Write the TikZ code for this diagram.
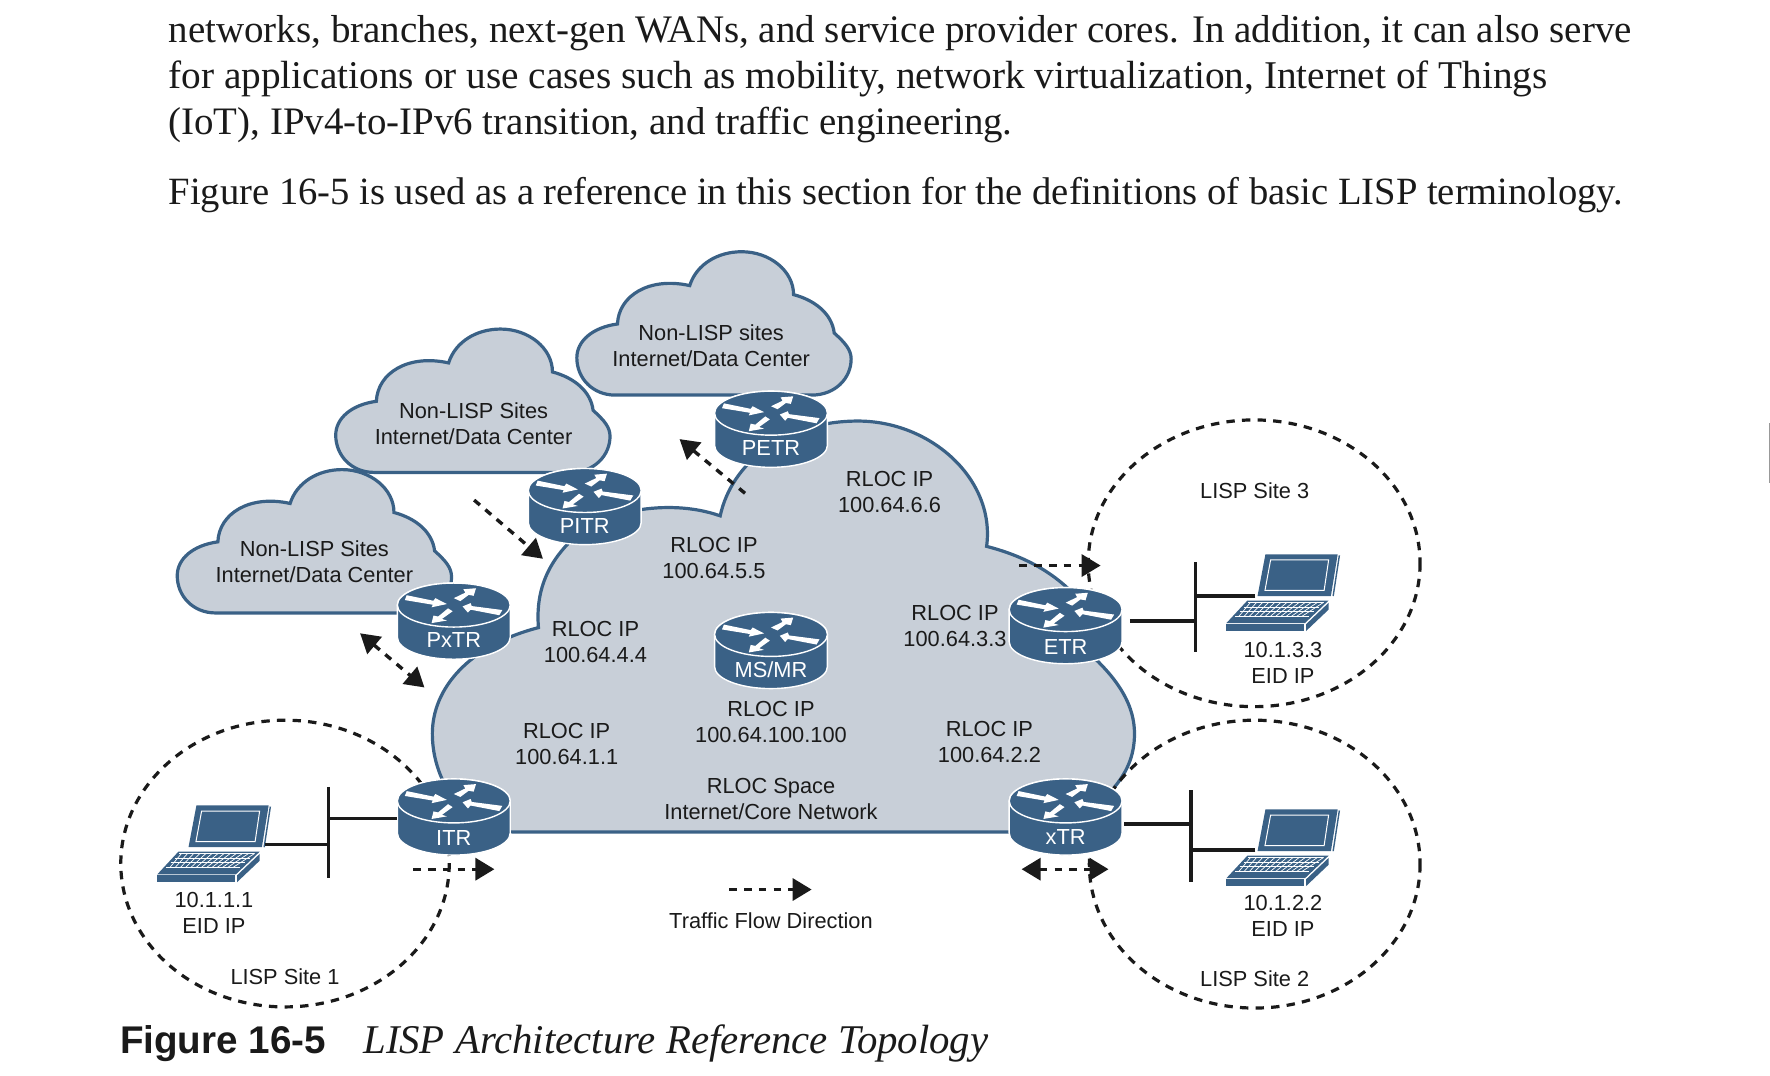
\documentclass[tikz,border=0pt]{standalone}
\usepackage{fontspec}
\setmainfont{Liberation Serif}
\newfontfamily\lsans{Liberation Sans}
\usetikzlibrary{arrows.meta}
\definecolor{rblue}{HTML}{3A6186}
\definecolor{cloudfill}{HTML}{C8CFD8}
\definecolor{cloudline}{HTML}{3A6186}
\definecolor{ink}{HTML}{1A1A1A}
\tikzset{
  x=0.5644pt,y=-0.5644pt,
  lbl/.style={font=\lsans\fontsize{10.9}{13}\selectfont,text=ink,align=center,inner sep=0pt},
  body/.style={font=\fontsize{#1}{22}\selectfont,text=ink,anchor=base west,inner sep=0pt},
  routerbox/.style={inner sep=0pt,minimum width=56.4pt,minimum height=38.4pt,text=white,font=\lsans\fontsize{10.9}{13}\selectfont},
  cloudshape/.style={fill=cloudfill,draw=cloudline,line width=1.6pt,line join=miter},
  site/.style={draw=ink,line width=1.6pt,dash pattern=on 4.2pt off 3.6pt},
  wire/.style={draw=ink,line width=1.7pt},
  flow/.style={draw=ink,line width=1.7pt,dash pattern=on 3.8pt off 3.6pt,-{Triangle[length=9.5pt,width=11pt]}},
  flowboth/.style={draw=ink,line width=1.7pt,dash pattern=on 3.8pt off 3.6pt,{Triangle[length=9.5pt,width=11pt]}-{Triangle[length=9.5pt,width=11pt]}},
}
% router: #1 name, #2 cx, #3 cy (centre), #4 label, #5 label drop in pt
\newcommand{\routerat}[5]{%
  \begin{scope}[shift={(#2,#3)}]
    \fill[rblue,draw=white,line width=0.7pt] (-50,-14) -- (-50,14.5) arc[start angle=180,end angle=0,x radius=50,y radius=19.5] -- (50,-14) arc[start angle=0,end angle=-180,x radius=50,y radius=19.5] -- cycle;
    \draw[white,line width=0.7pt,fill=rblue] (0,-14) ellipse[x radius=50,y radius=19.5];
    \fill[white] (-41.7,-22.7) -- (-18,-17.8) -- (-16.3,-20.1) -- (-6.1,-14.9) -- (-19.7,-12) -- (-18.6,-14.3) -- (-43.4,-18.4) -- cycle;
    \fill[white] (43,-9.6) -- (40.3,-5) -- (14.9,-9.9) -- (12.5,-7.3) -- (7.8,-12.8) -- (14.9,-15.7) -- (15.9,-13.1) -- cycle;
    \fill[white] (0,-20.1) -- (10.2,-25) -- (8.5,-28) -- (19.7,-28.9) -- (17.6,-22.2) -- (13.2,-23) -- (5.8,-17.5) -- cycle;
    \fill[white] (-5.1,-11.1) -- (-1,-8.5) -- (-10.5,-1.7) -- (-6.1,-0.3) -- (-19.7,2) -- (-18,-4.7) -- (-13.9,-3.8) -- cycle;
  \end{scope}
  \node[routerbox] (#1) at (#2,#3) {\smash{\raisebox{-#5pt}{#4}}};
}
% laptop: shift relative to the site-1 laptop
\newcommand{\laptopat}[2]{%
  \begin{scope}[shift={(#1,#2)}]
    \fill[rblue] (174,714) -- (238,714) -- (232,751) -- (167,751) -- cycle;
    \draw[white,line width=0.5pt] (178.6,719) -- (230,719) -- (226,746) -- (173.6,746) -- cycle;
    \draw[rblue,line width=0.7pt] (239.5,715) -- (234,751);
    \fill[rblue] (158,755) -- (230,755) -- (209,775) -- (139.4,775) -- cycle;
    \fill[rblue] (139.4,776) -- (208,776) -- (208,782) -- (139.4,782) -- cycle;
    \fill[rblue] (210,776) -- (230,757) -- (230,763) -- (210,782) -- cycle;
    \foreach \t in {0.08,0.28,0.48,0.68}{
      \draw[white,line width=0.35pt] ({158+\t*(139.4-158)+2},{755+\t*20}) -- ({230+\t*(209-230)-3},{755+\t*20});
    }
    \foreach \s in {0.04,0.115,...,0.98}{
      \draw[white,line width=0.35pt] ({158+\s*72},756.5) -- ({148+\s*62},769);
    }
  \end{scope}
}
\newcommand{\smallcloud}[2]{%
  \begin{scope}[shift={(#1,#2)}]
    \draw[cloudshape] (545,350) .. controls (525,350) and (511,335) .. (511,317)
      .. controls (511,302) and (525,290) .. (547,287)
      .. controls (548,262) and (575,245) .. (611,253)
      .. controls (617,234) and (636,223) .. (657,223)
      .. controls (682,223) and (703,240) .. (703,261)
      .. controls (722,266) and (737,278) .. (739,295)
      .. controls (749,304) and (754,310) .. (754,318)
      .. controls (754,335) and (740,350) .. (719,350) -- cycle;
  \end{scope}
}
\begin{document}
\begin{tikzpicture}
\useasboundingbox (0,0) rectangle (1568,953.2);
% page text
\node[body=19.5] (t1) at (149,37.5) {networks, branches, next-gen WANs, and service provider cores. In addition, it can also serve};
\node[body=19.65] (t2) at (149,78) {for applications or use cases such as mobility, network virtualization, Internet of Things};
\node[body=19.45] (t3) at (149,119.5) {(IoT), IPv4-to-IPv6 transition, and traffic engineering.};
\node[body=19.3] (t4) at (149,181.5) {Figure 16-5 is used as a reference in this section for the definitions of basic LISP terminology.};
% page-edge mark
\fill[black!40] (1567.2,375) rectangle (1568,428);
% clouds
\smallcloud{-354}{193}
\smallcloud{-213.6}{68.5}
\smallcloud{0}{0}
\draw[cloudshape] (455,737) .. controls (415,737) and (383,695) .. (383,650)
  .. controls (383,610) and (415,572) .. (477,556)
  .. controls (474,520) and (488,495) .. (510,475)
  .. controls (530,455) and (590,440) .. (638,457)
  .. controls (648,410) and (695,373) .. (760,373)
  .. controls (825,373) and (882,425) .. (874,484)
  .. controls (905,492) and (930,505) .. (950,525)
  -- (955,570)
  .. controls (985,595) and (1005,620) .. (1005,650)
  .. controls (1005,670) and (998,685) .. (985,700)
  -- (960,737) -- cycle;
% sites
\draw[site] (252.5,765) ellipse[x radius=145.5,y radius=127];
\draw[site] (1111,499) ellipse[x radius=147,y radius=127];
\draw[site] (1111.5,765.5) ellipse[x radius=146.5,y radius=127.5];
% routers
\routerat{petr}{683}{380}{PETR}{13.4}
\routerat{pitr}{518}{448.5}{PITR}{13.4}
\routerat{pxtr}{402}{550}{PxTR}{13.4}
\routerat{msmr}{683}{576}{MS/MR}{13.4}
\routerat{etr}{944}{554}{ETR}{14.8}
\routerat{itr}{402}{723.5}{ITR}{14.6}
\routerat{xtr}{944}{723.5}{xTR}{13.8}
% laptops
\laptopat{0}{-0.5}
\laptopat{947}{3}
\laptopat{947}{-223}
\coordinate (lap1) at (235,748);
\coordinate (lap2) at (1112,753);
\coordinate (lap3) at (1112,528);
% buses
\coordinate (bus1a) at (291,697); \coordinate (bus1b) at (291,778);
\coordinate (bus2a) at (1055,700); \coordinate (bus2b) at (1055,781);
\coordinate (bus3a) at (1059,498); \coordinate (bus3b) at (1059,578);
\draw[wire] (bus1a) -- (bus1b);
\draw[wire] (bus2a) -- (bus2b);
\draw[wire] (bus3a) -- (bus3b);
\draw[wire] (lap1) -- (lap1 -| bus1a);
\draw[wire] (itr.west |- 0,725) -- (bus1a |- 0,725);
\draw[wire] (lap2) -- (lap2 -| bus2a);
\draw[wire] (996,730) -- (bus2a |- 0,730);
\draw[wire] (lap3) -- (lap3 -| bus3a);
\draw[wire] (1001,550) -- (bus3a |- 0,550);
% flows
\coordinate (fa1) at (319,561); \coordinate (fa2) at (376,609);
\coordinate (fb1) at (420,443); \coordinate (fb2) at (481,495);
\coordinate (fc1) at (660,437); \coordinate (fc2) at (602,389);
\coordinate (fd1) at (903,501); \coordinate (fd2) at (975,501);
\coordinate (fe1) at (366,770); \coordinate (fe2) at (438,770);
\coordinate (ff1) at (905,770); \coordinate (ff2) at (982,770);
\coordinate (fg1) at (646,788); \coordinate (fg2) at (719,788);
\draw[flowboth] (fa1) -- (fa2);
\draw[flow] (fb1) -- (fb2);
\draw[flow] (fc1) -- (fc2);
\draw[flow] (fd1) -- (fd2);
\draw[flow] (fe1) -- (fe2);
\draw[flowboth] (ff1) -- (ff2);
\draw[flow] (fg1) -- (fg2);
% labels
\node[lbl] (c1) at (630,306.5) {Non-LISP sites\\Internet/Data Center};
\node[lbl] (c2) at (419.5,375.5) {Non-LISP Sites\\Internet/Data Center};
\node[lbl] (c3) at (278.5,498) {Non-LISP Sites\\Internet/Data Center};
\node[lbl] (r6) at (788,436) {RLOC IP\\100.64.6.6};
\node[lbl] (r5) at (632.5,494) {RLOC IP\\100.64.5.5};
\node[lbl] (r4) at (527.5,568.5) {RLOC IP\\100.64.4.4};
\node[lbl] (r3) at (846,554.5) {RLOC IP\\100.64.3.3};
\node[lbl] (r2) at (876.5,657) {RLOC IP\\100.64.2.2};
\node[lbl] (r1) at (502,659) {RLOC IP\\100.64.1.1};
\node[lbl] (r0) at (683,640) {RLOC IP\\100.64.100.100};
\node[lbl] (core) at (683,708) {RLOC Space\\Internet/Core Network};
\node[lbl] (dir) at (683,816) {Traffic Flow Direction};
\node[lbl] (e1) at (189.5,809) {10.1.1.1\\EID IP};
\node[lbl] (e2) at (1136.5,811) {10.1.2.2\\EID IP};
\node[lbl] (e3) at (1136.5,587) {10.1.3.3\\EID IP};
\node[lbl] (s1) at (252.5,865) {LISP Site 1};
\node[lbl] (s2) at (1111.5,867) {LISP Site 2};
\node[lbl] (s3) at (1111.5,435) {LISP Site 3};
% caption
\node[anchor=base west,inner sep=0pt,text=ink,font=\lsans\bfseries\fontsize{19.3}{22}\selectfont] (capa) at (106,933.5) {Figure 16-5};
\node[anchor=base west,inner sep=0pt,text=ink,font=\itshape\fontsize{20.4}{22}\selectfont] (capb) at (321.5,933.5) {LISP Architecture Reference Topology};
\end{tikzpicture}
\end{document}
